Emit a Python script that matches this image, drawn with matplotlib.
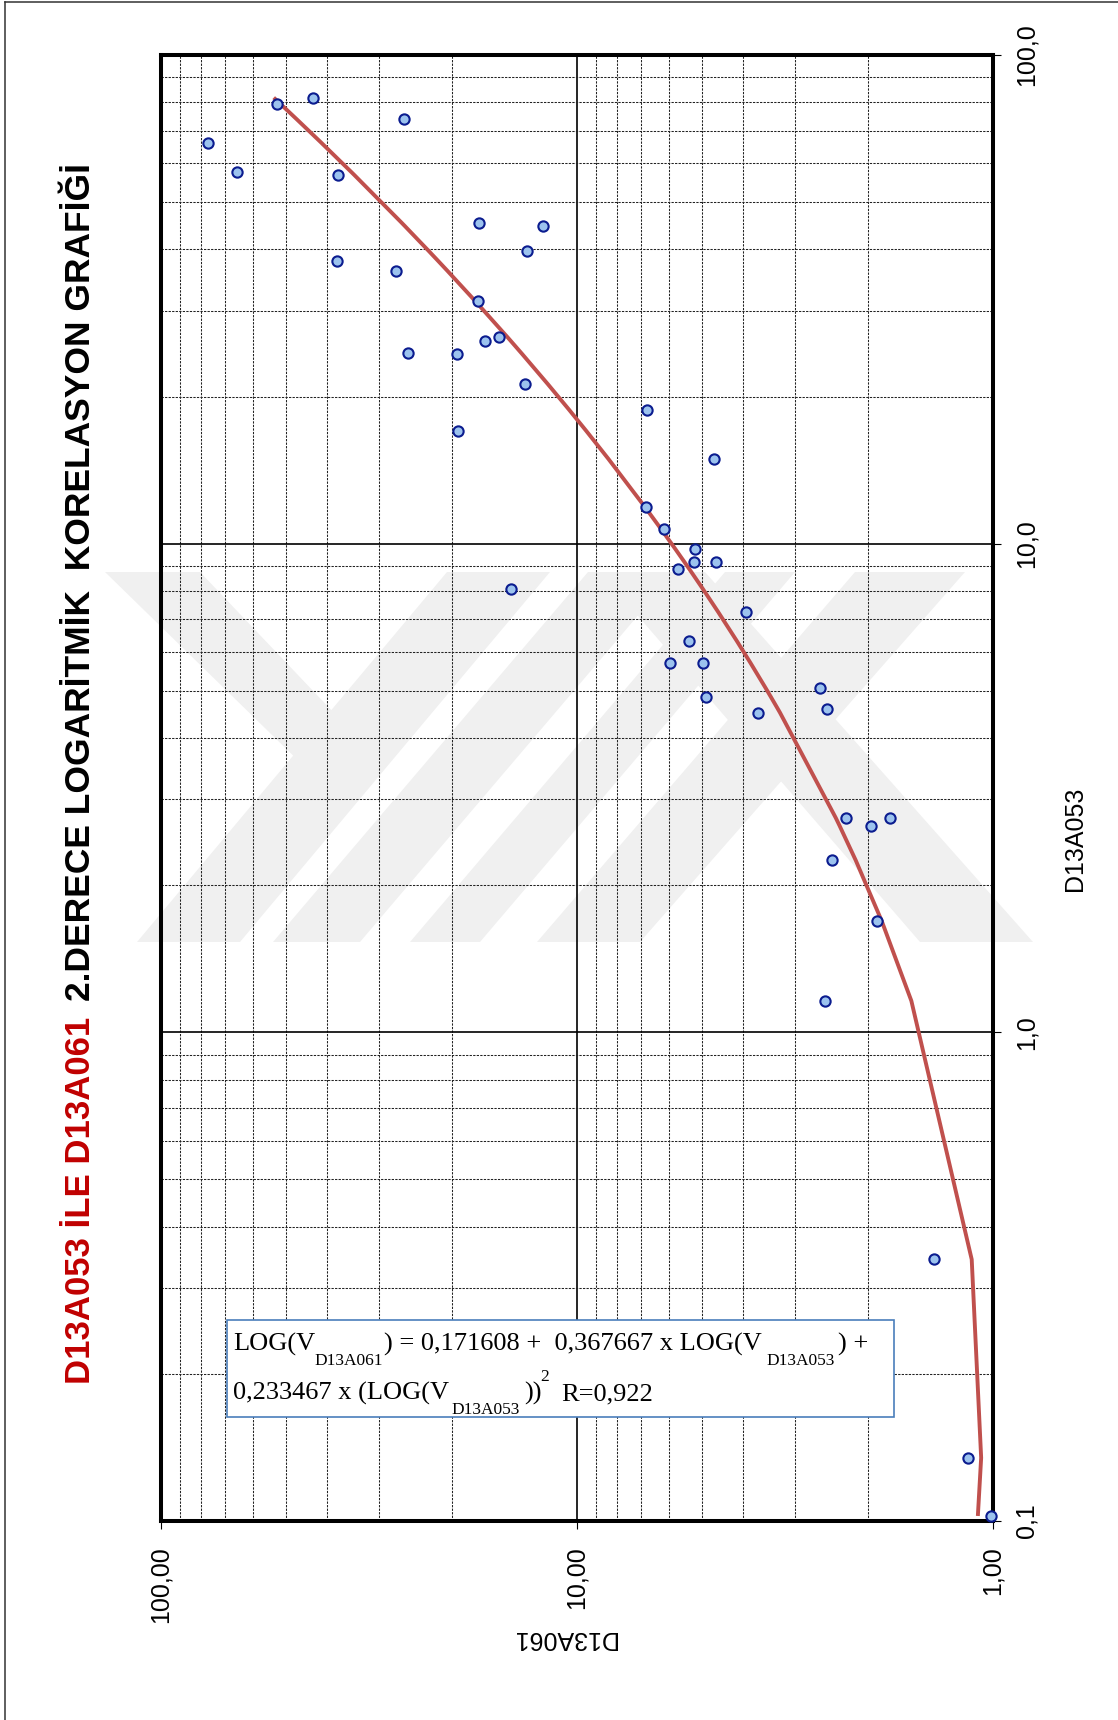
import numpy as np
import matplotlib
matplotlib.use('Agg')
import matplotlib.pyplot as plt
from matplotlib.patches import Polygon, Rectangle
from matplotlib.lines import Line2D
from matplotlib.ticker import LogLocator, NullFormatter

# ---------------- data ----------------
d13a061 = [52.5, 43.0, 26.1, 77.0, 65.8, 37.6, 17.2, 12.1, 37.8, 13.2, 27.2,
           17.3, 16.6, 15.4, 25.5, 19.4, 13.3, 6.78, 19.3, 4.68, 6.82, 6.19,
           5.19, 5.72, 5.24, 4.63, 14.4, 3.92, 5.39, 5.97, 4.99, 4.90, 2.61,
           2.50, 3.67, 2.26, 1.77, 1.97, 2.44, 1.90, 2.53, 1.39, 1.15, 1.01]
d13a053 = [79.3, 81.8, 73.8, 66.2, 57.5, 56.9, 45.4, 44.7, 37.9, 39.7, 36.1,
           31.4, 26.0, 26.5, 24.5, 24.4, 21.2, 18.8, 17.0, 14.9, 11.9, 10.7,
           9.75, 8.89, 9.17, 9.17, 8.07, 7.25, 6.32, 5.70, 5.70, 4.86, 5.07,
           4.59, 4.51, 2.75, 2.75, 2.65, 2.25, 1.69, 1.16, 0.343, 0.1347, 0.1024]

fit_coef = [0.171608, 0.367667, 0.233467]

x_ticks = [100, 10, 1]
x_tick_labels = ["100,00", "10,00", "1,00"]
y_ticks = [0.1, 1, 10, 100]
y_tick_labels = ["0,1", "1,0", "10,0", "100,0"]

title_red = "D13A053 İLE D13A061"
title_black = "2.DERECE LOGARİTMİK  KORELASYON GRAFİĞİ"
x_label = "D13A061"
y_label = "D13A053"

# ---------------- figure ----------------
W, H = 1118, 1720
fig = plt.figure(figsize=(W / 100, H / 100), dpi=100)
fig.patch.set_facecolor('white')


def fx(px):
    return px / W


def fy(py):
    return 1 - py / H


SANS = 'Liberation Sans'
SERIF = 'Liberation Serif'

# watermark (faint logo behind the chart)
wm_color = '#F0F0F0'
wm_polys = [
    [(105, 572), (200, 572), (355, 735), (310, 772)],
    [(137, 942), (240, 942), (550, 572), (447, 572)],
    [(273, 942), (360, 942), (675, 572), (588, 572)],
    [(410, 942), (480, 942), (795, 572), (725, 572)],
    [(537, 942), (640, 942), (965, 572), (855, 572)],
    [(600, 572), (705, 572), (1033, 942), (920, 942)],
]
for poly in wm_polys:
    pts = [(fx(a), fy(b)) for a, b in poly]
    fig.add_artist(Polygon(pts, closed=True, transform=fig.transFigure,
                           fc=wm_color, ec='none', zorder=-1))

# outer frame
fig.add_artist(Line2D([fx(5.3), fx(5.3)], [fy(1725), fy(1.7)],
                      transform=fig.transFigure, color='#333333', lw=1.1))
fig.add_artist(Line2D([fx(5.3), fx(1125)], [fy(1.7), fy(1.7)],
                      transform=fig.transFigure, color='#333333', lw=1.1))

# axes
L, R, T, B = 161, 993, 55, 1521
ax = fig.add_axes([fx(L), fy(B), (R - L) / W, (B - T) / H])
ax.set_facecolor('none')
ax.set_xscale('log')
ax.set_yscale('log')
ax.set_xlim(100, 1)
ax.set_ylim(0.1, 100)

ax.xaxis.set_minor_locator(LogLocator(base=10, subs=np.arange(2, 10)))
ax.yaxis.set_minor_locator(LogLocator(base=10, subs=np.arange(2, 10)))
ax.xaxis.set_minor_formatter(NullFormatter())
ax.yaxis.set_minor_formatter(NullFormatter())

ax.grid(which='minor', color='#222222', lw=0.75, ls=(0, (2.2, 1.2)), zorder=1)
ax.grid(which='major', color='black', lw=1.2, ls='-', zorder=1)
ax.set_axisbelow(True)

for s in ax.spines.values():
    s.set_linewidth(2.9)
    s.set_color('black')

ax.set_xticks(x_ticks)
ax.set_xticklabels(x_tick_labels, rotation=90, fontsize=18, family=SANS)
ax.yaxis.tick_right()
ax.set_yticks(y_ticks)
ax.set_yticklabels(y_tick_labels, rotation=90, va='center', fontsize=18,
                   family=SANS)
ax.tick_params(axis='x', which='major', direction='out', length=6, width=0.8,
               pad=12.5, bottom=True, top=False)
ax.tick_params(axis='y', which='major', direction='out', length=6, width=0.8,
               pad=9.5, right=True, left=False)
ax.tick_params(which='minor', length=0)

# fitted second-degree logarithmic curve evaluated at the data x values
x053_sorted = np.sort(np.array(d13a053))
lg = np.log10(x053_sorted)
fit061 = 10 ** (fit_coef[0] + fit_coef[1] * lg + fit_coef[2] * lg ** 2)
ax.plot(fit061, x053_sorted, color='#C0504D', lw=2.8, zorder=3,
        solid_capstyle='butt')

# scatter points
ax.plot(d13a061, d13a053, 'o', ms=7.4, mfc='#9CC3EE', mec='#0B1C8F',
        mew=1.5, zorder=4, clip_on=False, ls='none')

# axis titles
fig.text(fx(1075), fy(839), y_label, rotation=90, ha='center', va='center',
         fontsize=18, family=SANS)
fig.text(fx(564), fy(1638), x_label, rotation=180, ha='center', va='center',
         fontsize=18, family=SANS)

# chart title (two colours, rotated)
t1 = fig.text(fx(80), fy(1384), title_red, rotation=90, rotation_mode='anchor',
              ha='left', va='center', fontsize=25, fontweight='bold',
              color='#C00000', family=SANS)
fig.canvas.draw()
bb = t1.get_window_extent()
fig.text(fx(80), (bb.y1 + 16) / H, title_black, rotation=90,
         rotation_mode='anchor', ha='left', va='center', fontsize=25.5,
         fontweight='bold', color='black', family=SANS)

# equation box
box = Rectangle((fx(226.6), fy(1417)), (894 - 226.6) / W, (1417 - 1320) / H,
                transform=fig.transFigure, fc='white', ec='#4A7EBB', lw=1.2,
                zorder=5)
fig.add_artist(box)

MAIN, SUB = 19, 12.5
c0 = f"{fit_coef[0]:.6f}".replace('.', ',')
c1 = f"{fit_coef[1]:.6f}".replace('.', ',')
c2 = f"{fit_coef[2]:.6f}".replace('.', ',')
eq_pieces = [
    ("LOG(V", 233, 1351, MAIN),
    ("D13A061", 314.7, 1365, SUB),
    (f") = {c0} +  {c1} x LOG(V", 384, 1351, MAIN),
    ("D13A053", 766, 1365, SUB),
    (") +", 838, 1351, MAIN),
    (f"{c2} x (LOG(V", 233, 1400, MAIN),
    ("D13A053", 451, 1414, SUB),
    ("))", 524, 1400, MAIN),
    ("2", 540, 1381, SUB),
    ("R=0,922", 561, 1400, MAIN),
]
for s, px, py, fs in eq_pieces:
    fig.text(fx(px), fy(py), s, ha='left', va='baseline', fontsize=fs,
             family=SERIF, color='black', zorder=6)

fig.savefig('out.png', dpi=100)
